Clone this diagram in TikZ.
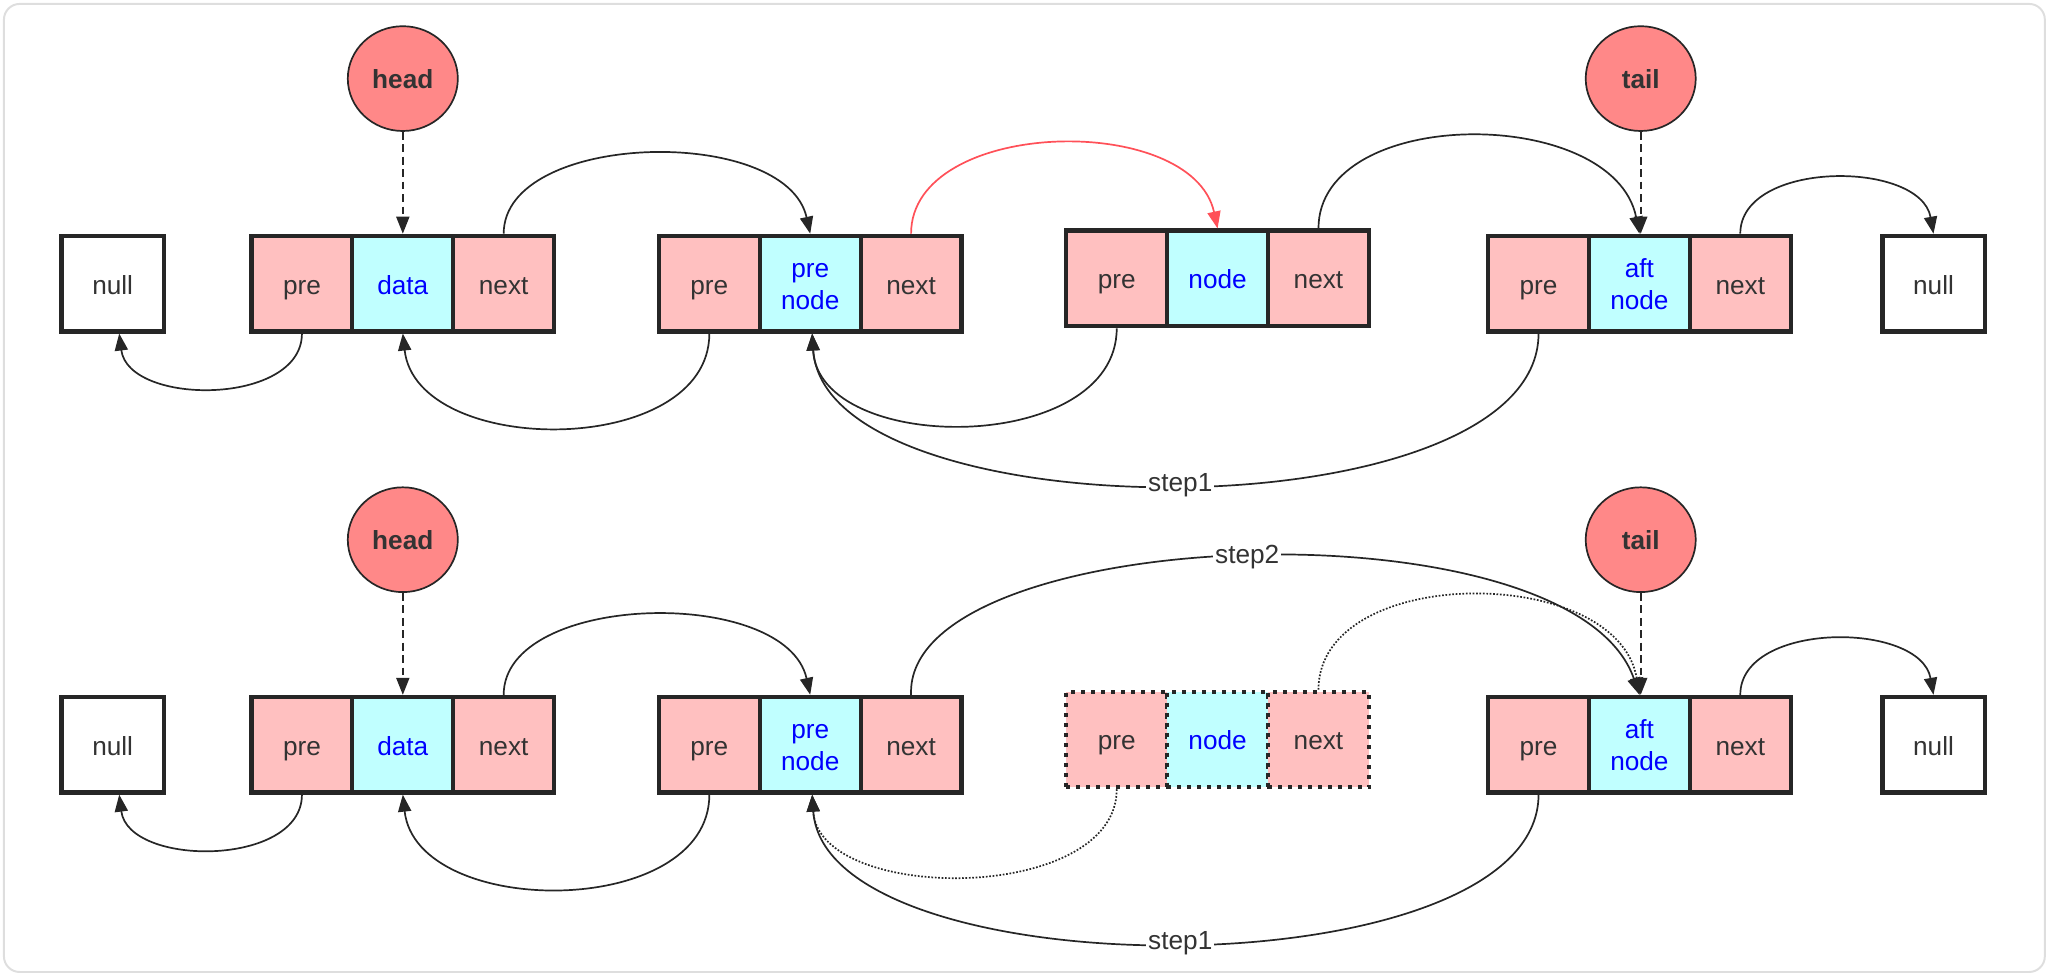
\documentclass[tikz,border=0pt]{standalone}
\usepackage{fontspec}
\setmainfont{Liberation Sans}
\usetikzlibrary{arrows.meta,shapes.geometric}
\definecolor{pinkc}{HTML}{FFC0C0}
\definecolor{cyanc}{HTML}{C0FFFF}
\definecolor{ptrc}{HTML}{FF8888}
\definecolor{inkc}{HTML}{262626}
\definecolor{txtc}{HTML}{333333}
\definecolor{bluec}{HTML}{0000FF}
\definecolor{redc}{HTML}{FF5058}
\definecolor{framec}{HTML}{DEDEDE}
\begin{document}
\begin{tikzpicture}[x=1pt,y=-1pt,
  cell/.style={rectangle, draw=inkc, line width=3.2pt, minimum width=77pt, minimum height=73pt, inner sep=0pt, font=\fontsize{20}{24.5}\selectfont, text=txtc, align=center, text height=16pt, text depth=0pt},
  twoline/.style={text height=40pt, text depth=0pt},
  pcell/.style={cell, fill=pinkc},
  ccell/.style={cell, fill=cyanc, text=bluec},
  nullbox/.style={cell, fill=white, minimum width=78pt},
  ghost/.style={line width=3pt, dash pattern=on 3pt off 4.6pt},
  ptr/.style={ellipse, draw=inkc, line width=1.3pt, fill=ptrc, minimum width=84pt, minimum height=80pt, inner sep=0pt, font=\fontsize{20}{23}\selectfont\bfseries, text=txtc, text height=15.5pt, text depth=0pt},
  link/.style={draw=inkc, line width=1.3pt, -{Triangle[length=13pt,width=10pt]}},
  redlink/.style={link, draw=redc},
  dashlink/.style={link, dash pattern=on 6pt off 3.5pt},
  dotlink/.style={link, dash pattern=on 1.3pt off 1.3pt},
  lab/.style={fill=white, inner sep=1.5pt, font=\fontsize{20}{23}\selectfont, text=txtc}
]
\useasboundingbox (0,0) rectangle (1568,745);
\draw[framec, line width=1.5pt, rounded corners=12pt] (3,3) rectangle (1561,742);

% ---------- top row ----------
\node[nullbox] (a0) at (86,216.5) {null};
\node[pcell] (a1p) at (230.5,216.5) {pre};
\node[ccell] (a1d) at (307.5,216.5) {data};
\node[pcell] (a1n) at (384.5,216.5) {next};
\node[pcell] (a2p) at (541.5,216.5) {pre};
\node[ccell,twoline] (a2d) at (618.5,216.5) {pre\\node};
\node[pcell] (a2n) at (695.5,216.5) {next};
\node[pcell] (a3p) at (852.5,212.5) {pre};
\node[ccell] (a3d) at (929.5,212.5) {node};
\node[pcell] (a3n) at (1006.5,212.5) {next};
\node[pcell] (a4p) at (1174.5,216.5) {pre};
\node[ccell,twoline] (a4d) at (1251.5,216.5) {aft\\node};
\node[pcell] (a4n) at (1328.5,216.5) {next};
\node[nullbox] (a5) at (1476,216.5) {null};
\node[ptr] (ah) at (307.5,60) {head};
\node[ptr] (at) at (1252.5,60) {tail};

\draw[dashlink] (ah.south) -- (a1d.north);
\draw[dashlink] (at.south) -- ([xshift=1pt]a4d.north);
\draw[link] (a1n.north) .. controls (384.5,100) and (600,95) .. (a2d.north);
\draw[redlink] (a2n.north) .. controls (695.5,90) and (910,85) .. (a3d.north);
\draw[link] (a3n.north) .. controls (1006.5,80) and (1232,80) .. (a4d.north);
\draw[link] (a4n.north) .. controls (1328.5,122) and (1466,122) .. (a5.north);
\draw[link] (a1p.south) .. controls (230.5,310) and (98,310) .. ([xshift=5pt]a0.south);
\draw[link] (a2p.south) .. controls (541.5,350) and (318,350) .. (a1d.south);
\draw[link] (a3p.south) .. controls (852.5,348) and (625,348) .. ([xshift=1.5pt]a2d.south);
\draw[link] (a4p.south) .. controls (1174.5,409) and (630,409) .. ([xshift=1.5pt]a2d.south) node[lab,midway]{step1};

% ---------- bottom row ----------
\node[nullbox] (b0) at (86,568.5) {null};
\node[pcell] (b1p) at (230.5,568.5) {pre};
\node[ccell] (b1d) at (307.5,568.5) {data};
\node[pcell] (b1n) at (384.5,568.5) {next};
\node[pcell] (b2p) at (541.5,568.5) {pre};
\node[ccell,twoline] (b2d) at (618.5,568.5) {pre\\node};
\node[pcell] (b2n) at (695.5,568.5) {next};
\node[pcell,ghost] (b3p) at (852.5,564.5) {pre};
\node[ccell,ghost] (b3d) at (929.5,564.5) {node};
\node[pcell,ghost] (b3n) at (1006.5,564.5) {next};
\node[pcell] (b4p) at (1174.5,568.5) {pre};
\node[ccell,twoline] (b4d) at (1251.5,568.5) {aft\\node};
\node[pcell] (b4n) at (1328.5,568.5) {next};
\node[nullbox] (b5) at (1476,568.5) {null};
\node[ptr] (bh) at (307.5,412) {head};
\node[ptr] (bt) at (1252.5,412) {tail};

\draw[dashlink] (bh.south) -- (b1d.north);
\draw[dashlink] (bt.south) -- ([xshift=1pt]b4d.north);
\draw[link] (b1n.north) .. controls (384.5,452) and (600,447) .. (b2d.north);
\draw[dotlink] (b3n.north) .. controls (1006.5,430) and (1235,430) .. (b4d.north);
\draw[link] (b2n.north) .. controls (690,400) and (1200,380) .. (b4d.north) node[lab,midway]{step2};
\draw[link] (b4n.north) .. controls (1328.5,474) and (1466,474) .. (b5.north);
\draw[link] (b1p.south) .. controls (230.5,662) and (98,662) .. ([xshift=5pt]b0.south);
\draw[link] (b2p.south) .. controls (541.5,702) and (318,702) .. (b1d.south);
\draw[dotlink] (b3p.south) .. controls (852.5,690) and (625,690) .. ([xshift=1.5pt]b2d.south);
\draw[link] (b4p.south) .. controls (1174.5,758) and (630,758) .. ([xshift=1.5pt]b2d.south) node[lab,midway]{step1};
\end{tikzpicture}
\end{document}
